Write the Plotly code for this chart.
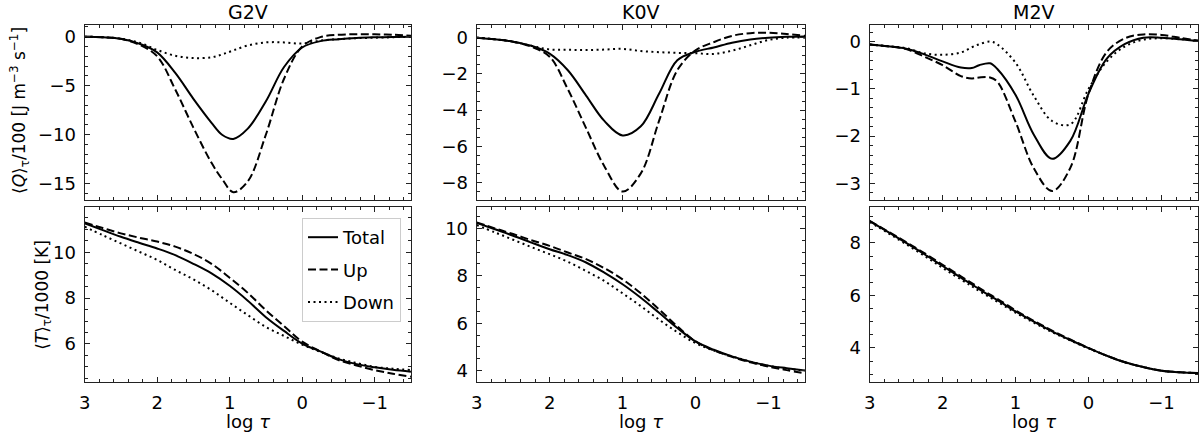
import plotly.graph_objects as go

# eixo log tau (temperaturas e K0V)
logtau = [3, 2.75, 2.5, 2.25, 2, 1.75, 1.5, 1.25, 1, 0.75, 0.5, 0.25, 0,
          -0.25, -0.5, -0.75, -1, -1.25, -1.5]
# G2V (Q) com pontos extras perto do minimo
logtau_g = [3, 2.75, 2.5, 2.25, 2, 1.75, 1.5, 1.25, 1.1, 0.95, 0.75, 0.5, 0.25, 0,
            -0.25, -0.5, -0.75, -1, -1.25, -1.5]
# M2V tem mais pontos perto da "corcova"
logtau_m = [3, 2.75, 2.5, 2.25, 2, 1.75, 1.6, 1.5, 1.35, 1.25, 1, 0.75, 0.5,
            0.25, 0, -0.25, -0.5, -0.75, -1, -1.25, -1.5]

# <Q>/100
g2v_q_total = [0, -0.05, -0.2, -0.7, -1.6, -3.7, -6.35, -8.8, -10.05, -10.45, -9.4, -6.6, -3.1,
               -1.1, -0.45, -0.25, -0.12, -0.06, -0.03, 0]
g2v_q_up = [0, -0.05, -0.22, -0.8, -2.0, -5.4, -9.3, -12.9, -14.6, -15.9, -14.8, -10.0, -4.3,
            -1.0, -0.04, 0.2, 0.25, 0.25, 0.2, 0.1]
g2v_q_down = [0, -0.05, -0.2, -0.6, -1.35, -1.95, -2.18, -2.1, -1.8, -1.4, -0.9, -0.58, -0.58,
              -0.7, -0.4, -0.25, -0.15, -0.1, -0.05, 0]

k0v_q_total = [0, -0.09, -0.22, -0.45, -0.88, -1.8, -3.2, -4.6, -5.4, -4.9, -3.1, -1.25, -0.78,
               -0.54, -0.28, -0.1, 0.0, 0.05, 0.07]
k0v_q_up = [0, -0.09, -0.22, -0.5, -1.05, -2.85, -5.0, -7.1, -8.5, -7.5, -4.6, -1.8, -0.7,
            -0.25, 0.1, 0.25, 0.27, 0.2, 0.1]
k0v_q_down = [0, -0.09, -0.22, -0.45, -0.65, -0.67, -0.68, -0.66, -0.62, -0.74, -0.8, -0.84, -0.86,
              -0.9, -0.72, -0.42, -0.13, 0, 0]

m2v_q_total = [-0.06, -0.1, -0.15, -0.27, -0.42, -0.55, -0.56, -0.5, -0.46, -0.58, -1.13, -1.97,
               -2.48, -2.1, -1.1, -0.36, -0.05, 0.08, 0.08, 0.05, 0.01]
m2v_q_up = [-0.06, -0.1, -0.16, -0.32, -0.5, -0.73, -0.78, -0.76, -0.76, -0.85, -1.7, -2.68,
            -3.16, -2.67, -1.1, -0.22, 0.07, 0.15, 0.14, 0.08, 0.02]
m2v_q_down = [-0.06, -0.1, -0.14, -0.25, -0.28, -0.23, -0.12, -0.06, 0.0, -0.06, -0.45, -1.15,
              -1.68, -1.75, -1.0, -0.42, -0.1, 0.04, 0.07, 0.05, 0.01]

# <T>/1000
g2v_t_total = [11.27, 10.97, 10.68, 10.42, 10.17, 9.88, 9.5, 9.08, 8.54, 7.89, 7.17, 6.57, 6.02,
               5.68, 5.34, 5.12, 4.98, 4.87, 4.79]
g2v_t_up = [11.3, 11.06, 10.83, 10.64, 10.47, 10.25, 9.93, 9.5, 8.89, 8.23, 7.47, 6.78, 6.1,
            5.68, 5.3, 5.06, 4.86, 4.7, 4.57]
g2v_t_down = [11.12, 10.75, 10.39, 10.03, 9.67, 9.23, 8.82, 8.35, 7.8, 7.26, 6.74, 6.35, 5.97,
              5.66, 5.37, 5.17, 5.0, 4.92, 4.86]

k0v_t_total = [10.23, 9.96, 9.69, 9.4, 9.12, 8.87, 8.56, 8.13, 7.64, 7.07, 6.44, 5.8, 5.23,
               4.88, 4.6, 4.38, 4.21, 4.1, 4.0]
k0v_t_up = [10.25, 10.0, 9.76, 9.5, 9.26, 8.98, 8.7, 8.32, 7.85, 7.26, 6.58, 5.87, 5.23,
            4.85, 4.58, 4.35, 4.17, 4.02, 3.89]
k0v_t_down = [10.14, 9.83, 9.52, 9.21, 8.91, 8.59, 8.2, 7.78, 7.26, 6.72, 6.15, 5.62, 5.16,
              4.85, 4.6, 4.38, 4.2, 4.08, 4.0]

m2v_t_total = [8.83, 8.42, 8.0, 7.57, 7.12, 6.68, 6.42, 6.24, 5.98, 5.82, 5.39, 5.0, 4.63,
               4.3, 3.99, 3.7, 3.45, 3.27, 3.13, 3.07, 3.04]
m2v_t_up = [8.84, 8.44, 8.03, 7.61, 7.17, 6.73, 6.47, 6.29, 6.03, 5.87, 5.43, 5.03, 4.66,
            4.32, 4.0, 3.7, 3.45, 3.27, 3.13, 3.07, 3.04]
m2v_t_down = [8.8, 8.38, 7.95, 7.51, 7.05, 6.61, 6.35, 6.17, 5.92, 5.76, 5.34, 4.96, 4.6,
              4.28, 3.98, 3.7, 3.45, 3.27, 3.13, 3.07, 3.04]

stars = ['G2V', 'K0V', 'M2V']
series_names = ['Total', 'Up', 'Down']
dashes = ['solid', '8px,3.5px', '2px,3.5px']

q_data = [
    (logtau_g, [g2v_q_total, g2v_q_up, g2v_q_down]),
    (logtau, [k0v_q_total, k0v_q_up, k0v_q_down]),
    (logtau_m, [m2v_q_total, m2v_q_up, m2v_q_down]),
]
t_data = [
    (logtau, [g2v_t_total, g2v_t_up, g2v_t_down]),
    (logtau, [k0v_t_total, k0v_t_up, k0v_t_down]),
    (logtau_m, [m2v_t_total, m2v_t_up, m2v_t_down]),
]

# limites e ticks de cada painel
q_ranges = [[-16.7, 1.2], [-8.97, 0.7], [-3.35, 0.35]]
q_dtick = [5, 2, 1]
q_minor = [1, 0.5, 0.2]
t_ranges = [[4.34, 11.98], [3.52, 10.9], [2.70, 9.37]]
t_dtick = [2, 2, 2]
t_minor = [0.5, 0.5, 0.5]

W, H = 1200, 435
col_px = [(79, 407), (473, 803), (868, 1198)]
row_px = [(25, 200), (207, 382)]

FONT = 'DejaVu Sans'
fig = go.Figure()

axis_common = dict(
    showline=True, linecolor='#222', linewidth=1, mirror='ticks',
    ticks='inside', ticklen=5, tickwidth=1, tickcolor='#222',
    showgrid=False, zeroline=False,
    tickfont=dict(family=FONT, size=18, color='black'),
)

for c in range(3):
    for r, (data, ranges, dt, mn) in enumerate([(q_data, q_ranges, q_dtick, q_minor),
                                                 (t_data, t_ranges, t_dtick, t_minor)]):
        idx = r * 3 + c + 1
        xs, ys = data[c]
        for s in range(3):
            fig.add_trace(go.Scatter(
                x=xs, y=ys[s], mode='lines', name=series_names[s],
                line=dict(color='black', width=2, dash=dashes[s], shape='spline', smoothing=1.0),
                xaxis='x%d' % idx, yaxis='y%d' % idx,
                showlegend=(idx == 4), legendgroup=series_names[s],
            ))
        x0, x1 = col_px[c]
        y0, y1 = row_px[r]
        xname = 'xaxis%d' % idx if idx > 1 else 'xaxis'
        yname = 'yaxis%d' % idx if idx > 1 else 'yaxis'
        fig.layout[xname] = dict(
            axis_common, domain=[x0 / W, x1 / W], anchor='y%d' % idx,
            range=[3, -1.5], dtick=1, tick0=0,
            minor=dict(dtick=0.2, ticks='inside', ticklen=3, tickcolor='#222'),
            showticklabels=(r == 1), ticklabelstandoff=4,
        )
        fig.layout[yname] = dict(
            axis_common, domain=[1 - y1 / H, 1 - y0 / H], anchor='x%d' % idx,
            range=ranges[c], dtick=dt[c], tick0=0,
            minor=dict(dtick=mn[c], ticks='inside', ticklen=3, tickcolor='#222'),
            ticklabelstandoff=4,
        )

annotations = []
for c in range(3):
    x0, x1 = col_px[c]
    annotations.append(dict(text=stars[c], x=(x0 + x1) / 2 / W, y=1 - 12 / H,
                            xanchor='center', yanchor='middle',
                            xref='paper', yref='paper', showarrow=False,
                            font=dict(family=FONT, size=19, color='black')))
    annotations.append(dict(text='log <i>τ</i>', x=(x0 + x1) / 2 / W, y=1 - 421 / H,
                            xanchor='center', yanchor='middle',
                            xref='paper', yref='paper', showarrow=False,
                            font=dict(family=FONT, size=18, color='black')))

annotations.append(dict(text='⟨<i>Q</i>⟩<sub>τ</sub>/100 [J m<sup>−3</sup> s<sup>−1</sup>]',
                        x=13 / W, y=1 - 110 / H, xanchor='center', yanchor='middle',
                        xref='paper', yref='paper', showarrow=False, textangle=-90,
                        font=dict(family=FONT, size=17, color='black')))
annotations.append(dict(text='⟨<i>T</i>⟩<sub>τ</sub>/1000 [K]',
                        x=37 / W, y=1 - 295 / H, xanchor='center', yanchor='middle',
                        xref='paper', yref='paper', showarrow=False, textangle=-90,
                        font=dict(family=FONT, size=17, color='black')))

fig.update_layout(
    width=W, height=H,
    margin=dict(l=0, r=0, t=0, b=0),
    paper_bgcolor='white', plot_bgcolor='white',
    annotations=annotations,
    legend=dict(x=397 / W, y=1 - 218 / H, xanchor='right', yanchor='top',
                bordercolor='#cccccc', borderwidth=1, bgcolor='rgba(255,255,255,0.8)',
                font=dict(family=FONT, size=18, color='black'),
                tracegroupgap=6, traceorder='grouped'),
)

# tira a margem padrao do <body> para a figura ficar colada no canto
fig.write_html('out.html', config={'displayModeBar': False},
               post_script="document.body.style.margin='0';")
